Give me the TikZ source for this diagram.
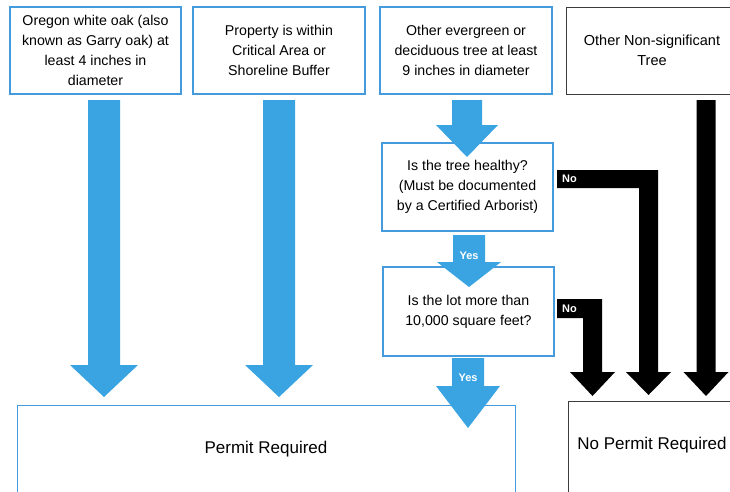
\documentclass[tikz,border=0pt]{standalone}
\usepackage{fontspec}
\setmainfont{Liberation Sans}
\definecolor{arrowblue}{RGB}{58,164,226}
\definecolor{boxblue}{RGB}{70,155,220}
\definecolor{boxgray}{RGB}{60,60,60}
\newcommand{\fatdown}[8]{% fill, cx, ytop, yheadbase, ytip, shaft hw, head hw, name
  \fill[#1] (#2-#6,#3) -- (#2+#6,#3) -- (#2+#6,#4) -- (#2+#7,#4) -- (#2,#5)
     -- (#2-#7,#4) -- (#2-#6,#4) -- cycle;
  \coordinate (#8) at (#2,#5);}
\begin{document}
\begin{tikzpicture}[x=1pt,y=-1pt,
  bluebox/.style={draw=boxblue,line width=1.2pt,fill=white,align=center,inner sep=0pt,font=\fontsize{14.2}{20}\selectfont},
  lbl/.style={text=white,font=\fontsize{11}{13}\selectfont\bfseries,inner sep=0pt}]
\clip (0,0) rectangle (730,491);
\fill[white] (0,0) rectangle (730,491);
% top boxes
\node[bluebox,minimum width=171pt,minimum height=87pt] (b1) at (95.5,50.5) {Oregon white oak (also\\known as Garry oak) at\\least 4 inches in\\diameter};
\node[bluebox,minimum width=172pt,minimum height=87pt] (b2) at (279,50.5) {Property is within\\Critical Area or\\Shoreline Buffer};
\node[bluebox,minimum width=172pt,minimum height=87pt] (b3) at (466,50.5) {Other evergreen or\\deciduous tree at least\\9 inches in diameter};
\draw[boxgray,line width=0.9pt] (566,7) rectangle (740,94);
\node[align=center,font=\fontsize{14.5}{20}\selectfont] (b4) at (652,50) {Other Non-significant\\Tree};
% arrows
\fatdown{arrowblue}{104}{100}{365}{397}{16}{34}{t1}
\fatdown{arrowblue}{279}{100}{365}{397}{16}{34}{t2}
% No arrows
\fill[black] (557,170) -- (658,170) -- (658,372) -- (671,372) -- (648.5,395) -- (626,372) -- (639,372) -- (639,188) -- (557,188) -- cycle;
\node[lbl,anchor=west] (no1) at (562,179) {No};
\fill[black] (557,299) -- (602,299) -- (602,372) -- (615,372) -- (592.5,396) -- (570,372) -- (583,372) -- (583,318) -- (557,318) -- cycle;
\node[lbl,anchor=west] (no2) at (562,308.5) {No};
\fatdown{black}{706}{100}{372}{396}{9.5}{22.5}{t5}
% question boxes
\node[bluebox,minimum width=171pt,minimum height=88pt] (q1) at (467.5,187) {Is the tree healthy?\\(Must be documented\\by a Certified Arborist)};
\node[bluebox,minimum width=171pt,minimum height=89pt] (q2) at (468.5,311.5) {Is the lot more than\\10,000 square feet?};
% bottom boxes
\node[bluebox,anchor=north west,minimum width=498pt,minimum height=100pt] (pr) at (17,405) {};
\node[font=\fontsize{17}{20}\selectfont] (prt) at (266,449) {Permit Required};
\draw[boxgray,line width=0.9pt] (568,401) rectangle (740,500);
\node[font=\fontsize{17}{20}\selectfont] (npr) at (652,445) {No Permit Required};
% arrows overlapping boxes
\fatdown{arrowblue}{467}{100}{125}{157}{15}{31}{t3}
\fatdown{arrowblue}{469}{235}{262}{287}{16}{32}{t4}
\node[lbl] (y1) at (469,256) {Yes};
\fatdown{arrowblue}{468}{358}{386}{428}{16}{32}{t6}
\node[lbl] (y2) at (468,378) {Yes};
\end{tikzpicture}
\end{document}
